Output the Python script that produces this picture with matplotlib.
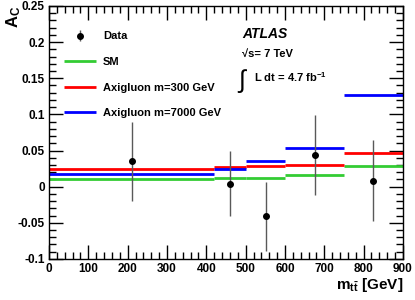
import matplotlib
matplotlib.use("Agg")
import matplotlib.pyplot as plt
from matplotlib.ticker import MultipleLocator

plt.rcParams["font.family"] = ["Liberation Sans", "DejaVu Sans"]
plt.rcParams["font.weight"] = "bold"
plt.rcParams["axes.labelweight"] = "bold"
plt.rcParams["mathtext.fontset"] = "custom"
plt.rcParams["mathtext.rm"] = "Liberation Sans:bold"
plt.rcParams["mathtext.bf"] = "Liberation Sans:bold"
plt.rcParams["mathtext.it"] = "Liberation Sans:bold:italic"
plt.rcParams["mathtext.default"] = "bf"

# bin edges in m_tt [GeV]
bin_lo = [0, 420, 500, 600, 750]
bin_hi = [420, 500, 600, 750, 900]

# data
data_x = [210, 460, 552, 676, 825]
data_y = [0.035, 0.004, -0.041, 0.044, 0.0085]
data_err = [0.055, 0.045, 0.048, 0.055, 0.056]

# predictions per bin
sm = [0.0103, 0.0117, 0.0122, 0.0159, 0.0286]
axi300 = [0.0249, 0.027, 0.0286, 0.0305, 0.0465]
axi7000 = [0.0173, 0.024, 0.0348, 0.053, 0.127]

fig = plt.figure(figsize=(4.15, 3.0), dpi=100)
ax = fig.add_axes([0.118, 0.137, 0.853, 0.843])

ax.hlines(sm, bin_lo, bin_hi, color="#33cc33", lw=2, label="SM")
ax.hlines(axi300, bin_lo, bin_hi, color="#ff0000", lw=2, label="Axigluon m=300 GeV")
ax.hlines(axi7000, bin_lo, bin_hi, color="#0000ff", lw=2, label="Axigluon m=7000 GeV")
ax.errorbar(data_x, data_y, yerr=data_err, fmt="o", color="black", ms=4,
            ecolor="0.35", elinewidth=1, capsize=0, label="Data", zorder=5)

handles, labels = ax.get_legend_handles_labels()
order = [labels.index(l) for l in ["Data", "SM", "Axigluon m=300 GeV", "Axigluon m=7000 GeV"]]
ax.legend([handles[i] for i in order], [labels[i] for i in order],
          loc="upper left", bbox_to_anchor=(0.03, 0.917), frameon=False,
          fontsize=8, handlelength=2.9, handletextpad=0.6, labelspacing=1.4,
          borderaxespad=0)

ax.set_xlim(0, 900)
ax.set_ylim(-0.1, 0.25)
ax.xaxis.set_major_locator(MultipleLocator(100))
ax.xaxis.set_minor_locator(MultipleLocator(20))
ax.yaxis.set_major_locator(MultipleLocator(0.05))
ax.yaxis.set_minor_locator(MultipleLocator(0.01))
ax.yaxis.set_major_formatter(plt.FuncFormatter(lambda v, p: f"{v:g}"))
ax.tick_params(which="both", direction="in", top=True, right=True, labelsize=8.5, width=1)
ax.tick_params(which="major", length=10, pad=3)
ax.tick_params(which="minor", length=5)
for lbl in ax.get_xticklabels() + ax.get_yticklabels():
    lbl.set_fontweight("bold")
for s in ax.spines.values():
    s.set_linewidth(1)

ax.set_ylabel("A$_C$", loc="top", fontsize=12)
ax.yaxis.set_label_coords(-0.072, 1.0)
ax.set_xlabel(r"m$_{t\bar{t}}$ [GeV]", loc="right", fontsize=11, labelpad=1)

ax.text(0.545, 0.875, "ATLAS", transform=ax.transAxes, fontsize=10,
        fontweight="bold", fontstyle="italic")
ax.text(0.545, 0.80, "\u221as= 7 TeV", transform=ax.transAxes, fontsize=8)
ax.text(0.535, 0.675, "\u222b", transform=ax.transAxes, fontsize=18, fontweight="normal")
ax.text(0.578, 0.70, "L dt = 4.7 fb$^{-1}$", transform=ax.transAxes, fontsize=8)

fig.savefig("out.png", dpi=100)
